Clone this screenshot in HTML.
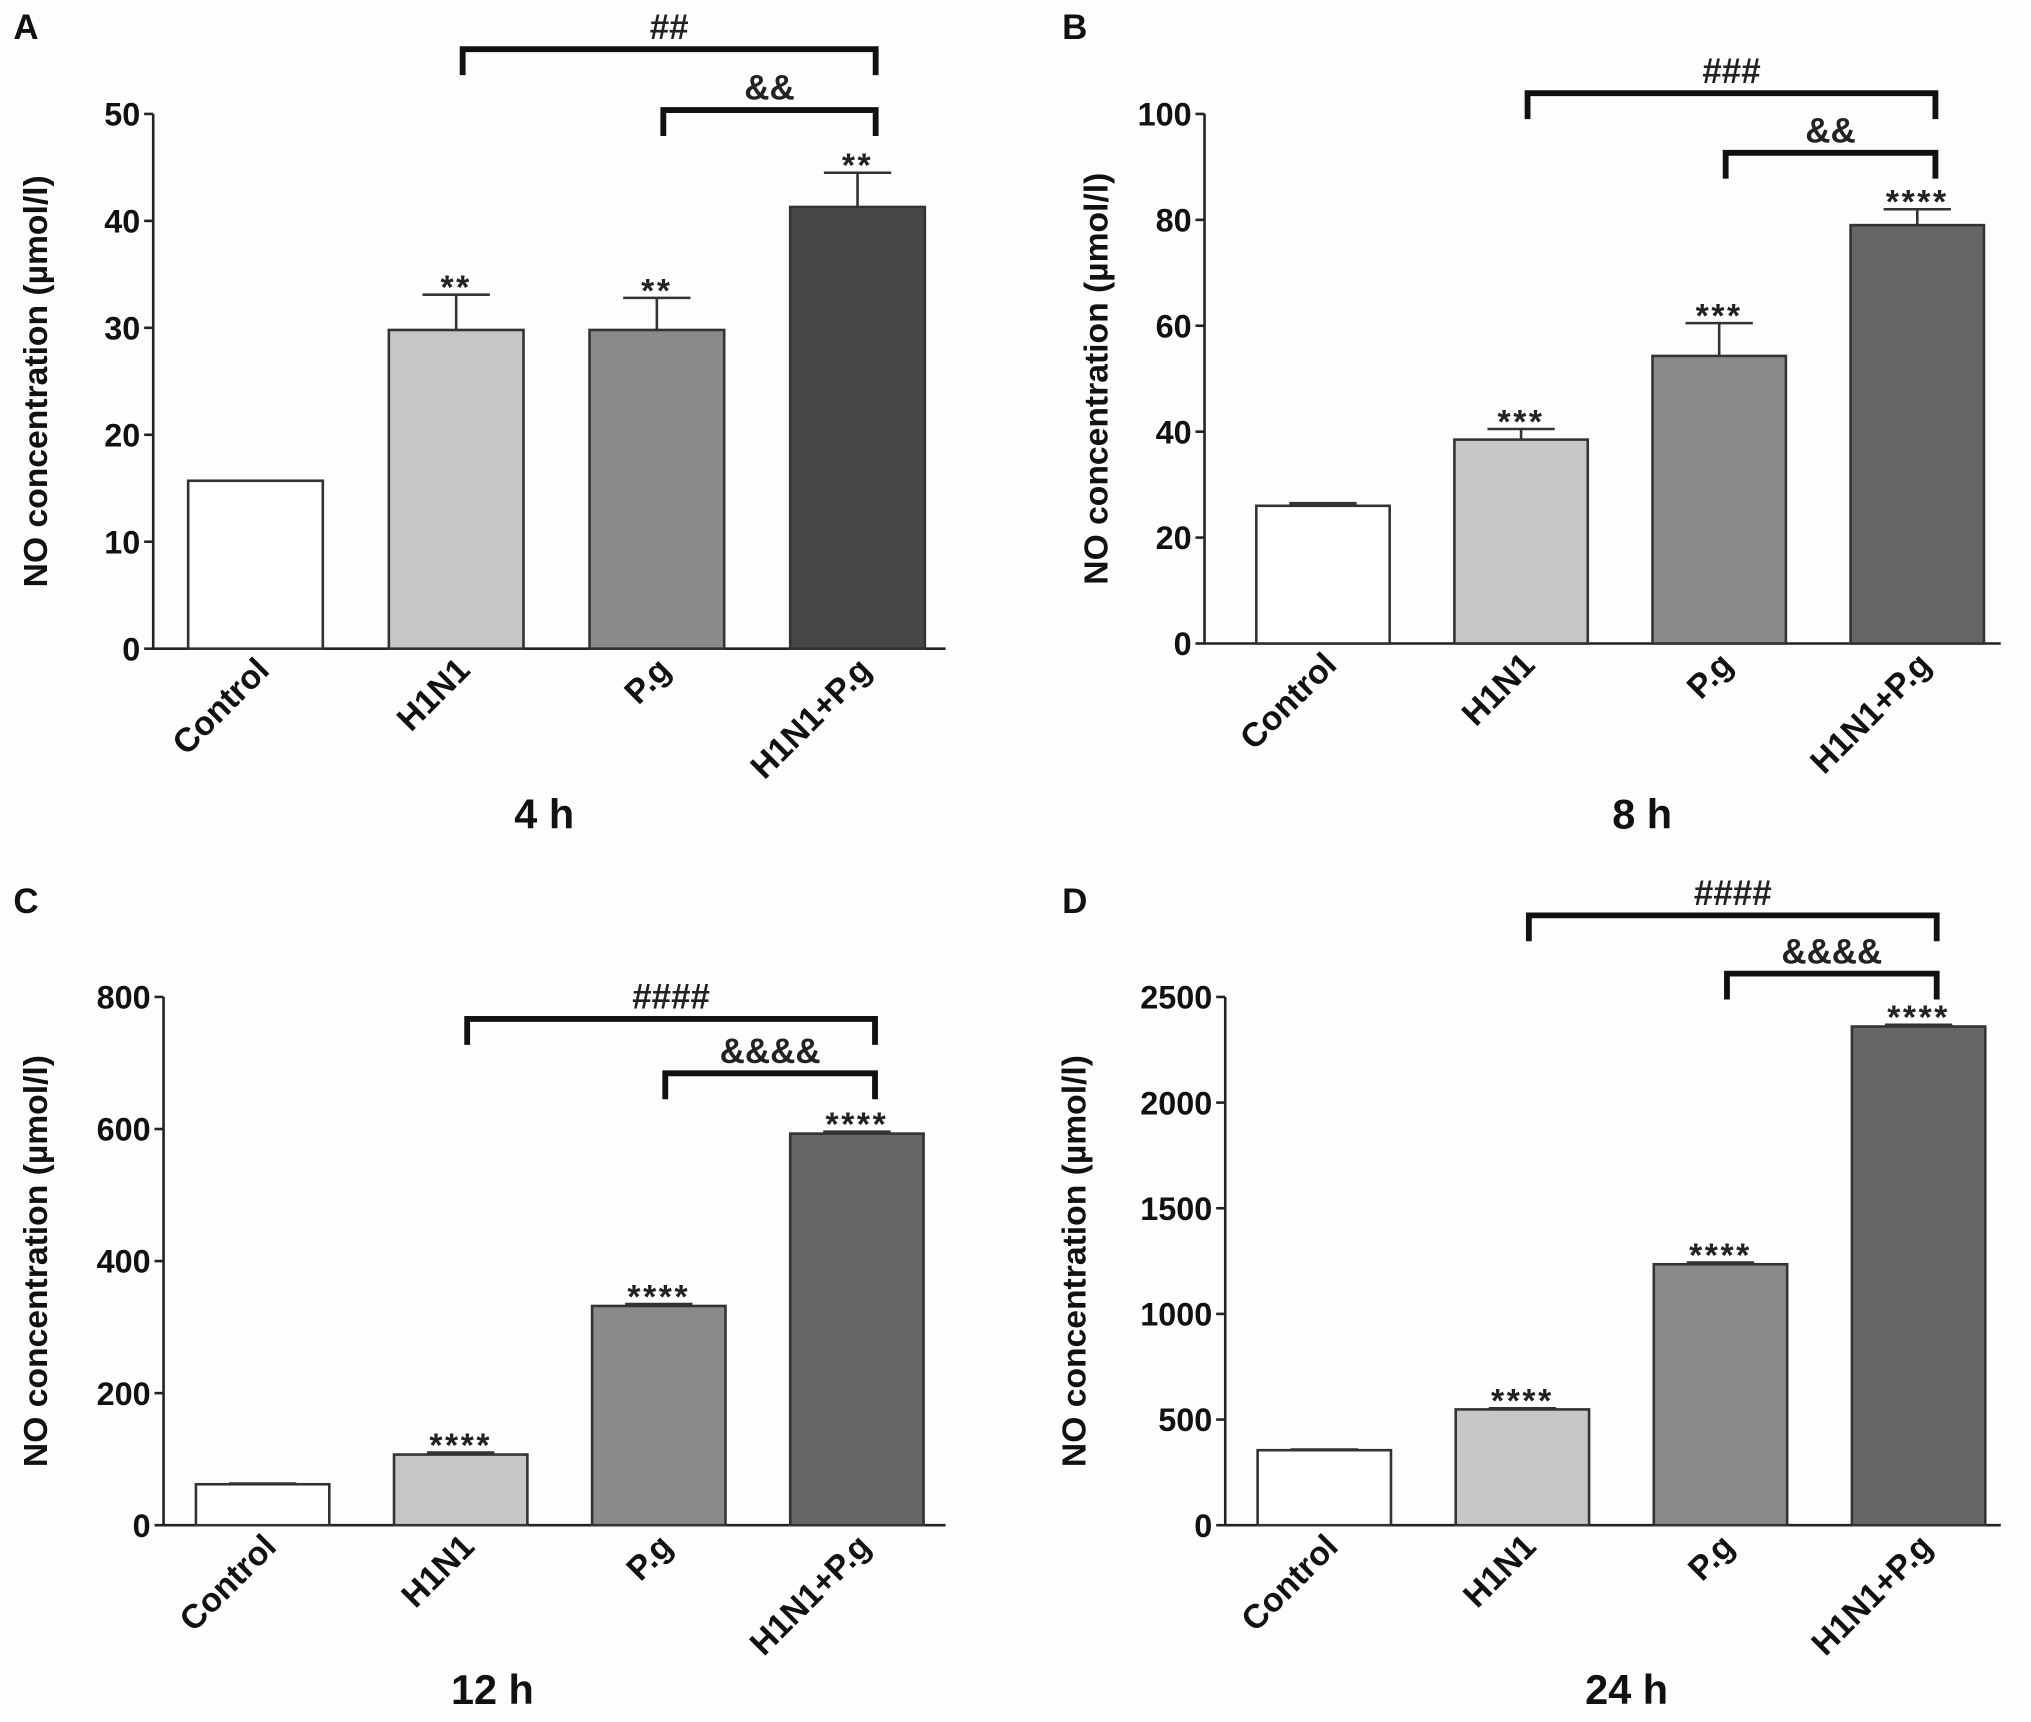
<!DOCTYPE html>
<html><head><meta charset="utf-8"><style>
html,body{margin:0;padding:0;background:#fdfdfd;}
svg{display:block;font-family:"Liberation Sans",Arial,sans-serif;}
</style></head><body>
<svg id="fig" width="2031" height="1722" viewBox="0 0 1568 1330" xmlns="http://www.w3.org/2000/svg"></svg>
<script>
const categories = ["Control","H1N1","P.g","H1N1+P.g"];
const valuesA = [15.7, 29.8, 29.8, 41.3];
const errorsA = [0, 3.3, 3.0, 3.2];
const valuesB = [26, 38.5, 54.3, 79];
const errorsB = [0.5, 2.0, 6.2, 3.0];
const valuesC = [62, 107, 332, 593];
const errorsC = [1, 3, 3, 3];
const valuesD = [355, 548, 1235, 2360];
const errorsD = [3, 5, 8, 8];
const starsA = ["","**","**","**"];
const starsB = ["","***","***","****"];
const starsC = ["","****","****","****"];
const starsD = ["","****","****","****"];
const ticksA = [0,10,20,30,40,50];
const ticksB = [0,20,40,60,80,100];
const ticksC = [0,200,400,600,800];
const ticksD = [0,500,1000,1500,2000,2500];
const fillsA = ["#ffffff","#c6c6c6","#8a8a8a","#474747"];
const fillsOther = ["#ffffff","#c6c6c6","#8a8a8a","#666666"];

const NS="http://www.w3.org/2000/svg";
const svg=document.getElementById('fig');
function mk(tag,attrs,parent,text){const e=document.createElementNS(NS,tag);for(const k in attrs)e.setAttribute(k,attrs[k]);if(text!==undefined)e.textContent=text;(parent||svg).appendChild(e);return e;}

function panel(cfg){
  const g=mk('g',{});
  
  
  const ymax=cfg.ticks[cfg.ticks.length-1];
  const y=v=>cfg.y0-(v/ymax)*(cfg.y0-cfg.yTop);
  const lt=mk('text',{x:cfg.lx,y:cfg.ly,'font-size':27,'font-weight':'bold',fill:'#111'},g,cfg.letter);
  
  
  const ax=mk('path',{d:`M${cfg.ax},${cfg.yTop} V${cfg.y0} H${cfg.axEnd}`,stroke:'#222','stroke-width':2,fill:'none'},g);
  
  
  cfg.ticks.forEach(t=>{
    mk('line',{x1:cfg.ax-7,x2:cfg.ax,y1:y(t),y2:y(t),stroke:'#222','stroke-width':2},g);
    const tl=mk('text',{x:cfg.ax-10,y:y(t)+9,'font-size':25,'font-weight':'bold','text-anchor':'end',fill:'#111'},g,String(t));
    
    
  });
  const yt=mk('text',{x:0,y:0,'font-size':26,'font-weight':'bold','text-anchor':'middle',fill:'#111',transform:`translate(${cfg.ylx},${(cfg.y0+cfg.yTop)/2}) rotate(-90)`},g,'NO concentration (µmol/l)');
  
  
  const centers=[];
  cfg.values.forEach((v,i)=>{
    const x=cfg.bx+i*cfg.step, w=cfg.bw, cx=x+w/2; centers.push(cx);
    const top=y(v+cfg.errors[i]);
    if(cfg.errors[i]>0){
      mk('line',{x1:cx,x2:cx,y1:y(v),y2:top,stroke:'#333','stroke-width':2},g);
      mk('line',{x1:cx-26,x2:cx+26,y1:top,y2:top,stroke:'#333','stroke-width':2},g);
    }
    const r=mk('rect',{x:x,y:y(v),width:w,height:cfg.y0-y(v),fill:cfg.fills[i],stroke:'#333','stroke-width':2},g);
    
    
    if(cfg.stars[i]){
      const s=mk('text',{x:cx,y:top+3,'font-size':26,'font-weight':'bold','text-anchor':'middle',fill:'#222','letter-spacing':2},g,cfg.stars[i]);
      
      
    }
    const xl=mk('text',{x:0,y:0,'font-size':26,'font-weight':'bold','text-anchor':'end',fill:'#111',transform:`translate(${cx+12},${cfg.y0+18}) rotate(-45)`},g,categories[i]);
    
    
  });
  cfg.brackets.forEach(b=>{
    const x1=centers[b.from]+5, x2=centers[3]+14;
    const p=mk('path',{d:`M${x1},${b.y+20} V${b.y} H${x2} V${b.y+20}`,stroke:'#111','stroke-width':4.5,fill:'none'},g);
    
    
    const t=mk('text',{x:(x1+x2)/2,y:b.y-8,'font-size':27,'font-weight':'bold','text-anchor':'middle',fill:'#222'},g,b.label);
    
    
  });
  const tt=mk('text',{x:cfg.tx,y:cfg.ty,'font-size':32,'font-weight':'bold','text-anchor':'middle',fill:'#111'},g,cfg.title);
  
  
}

panel({letter:'A',lx:10,ly:30,ax:118,axEnd:730,y0:501,yTop:88,ticks:ticksA,values:valuesA,errors:errorsA,stars:starsA,fills:fillsA,bx:145,bw:104,step:155,ylx:36,tx:420,ty:640,title:'4 h',
  brackets:[{from:1,y:38,label:'##'},{from:2,y:85,label:'&&'}]});
panel({letter:'B',lx:820,ly:30,ax:930,axEnd:1545,y0:497,yTop:88,ticks:ticksB,values:valuesB,errors:errorsB,stars:starsB,fills:fillsOther,bx:970,bw:103,step:153,ylx:855,tx:1268,ty:640,title:'8 h',
  brackets:[{from:1,y:72,label:'###'},{from:2,y:118,label:'&&'}]});
panel({letter:'C',lx:10,ly:705,ax:126,axEnd:730,y0:1178,yTop:770,ticks:ticksC,values:valuesC,errors:errorsC,stars:starsC,fills:fillsOther,bx:151,bw:103,step:153,ylx:36,tx:380,ty:1316,title:'12 h',
  brackets:[{from:1,y:787,label:'####'},{from:2,y:829,label:'&&&&'}]});
panel({letter:'D',lx:820,ly:705,ax:946,axEnd:1545,y0:1178,yTop:770,ticks:ticksD,values:valuesD,errors:errorsD,stars:starsD,fills:fillsOther,bx:971,bw:103,step:153,ylx:838,tx:1256,ty:1316,title:'24 h',
  brackets:[{from:1,y:707,label:'####'},{from:2,y:752,label:'&&&&'}]});
</script>
</body></html>
